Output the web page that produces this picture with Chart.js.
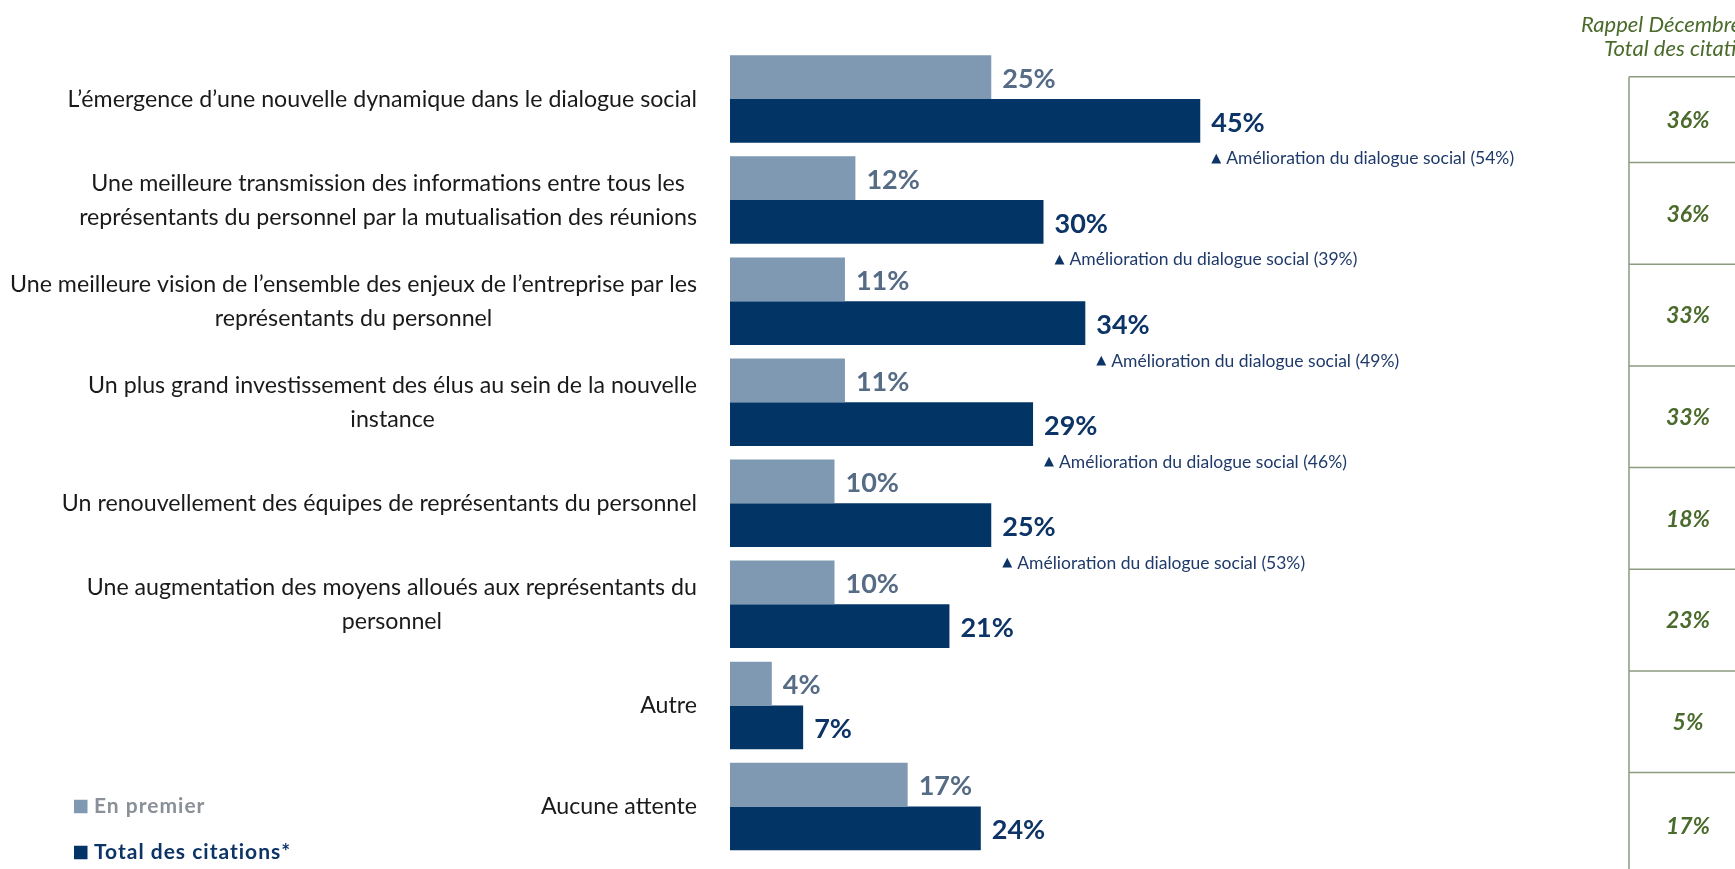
<!DOCTYPE html>
<html lang="fr">
<head>
<meta charset="utf-8">
<title>Attentes</title>
<script src="https://cdn.jsdelivr.net/npm/chart.js@4.4.1/dist/chart.umd.min.js"></script>
<style>
  html, body { margin: 0; padding: 0; background: #ffffff; }
  #wrap { width: 1735px; height: 869px; position: relative; overflow: hidden; }
  canvas { display: block; }
</style>
</head>
<body>
<div id="wrap"><canvas id="chart" width="1735" height="869"></canvas></div>
<script>
// ---- Data ----
const categories = [
  ["L’émergence d’une nouvelle dynamique dans le dialogue social"],
  ["Une meilleure transmission des informations entre tous les", "représentants du personnel par la mutualisation des réunions"],
  ["Une meilleure vision de l’ensemble des enjeux de l’entreprise par les", "représentants du personnel"],
  ["Un plus grand investissement des élus au sein de la nouvelle", "instance"],
  ["Un renouvellement des équipes de représentants du personnel"],
  ["Une augmentation des moyens alloués aux représentants du", "personnel"],
  ["Autre"],
  ["Aucune attente"]
];
const seriesNames = ["En premier", "Total des citations*"];
const enPremier = [25, 12, 11, 11, 10, 10, 4, 17];
const totalCitations = [45, 30, 34, 29, 25, 21, 7, 24];
const ameliorationDialogue = [54, 39, 49, 46, 53, null, null, null];
const ameliorationLabel = "Amélioration du dialogue social";
const rappelHeader = ["Rappel Décembre", "Total des citations"];
const rappelDecembre = [36, 36, 33, 33, 18, 23, 5, 17];

// ---- Styles ----
const COL_LIGHT = "#7f99b2";
const COL_DARK = "#023465";
const COL_LIGHT_TXT = "#566b85";
const COL_DARK_TXT = "#0d3466";
const COL_GREEN = "#4a6b2b";
const COL_GREEN_LINE = "#8c9c80";
const FONT = "Lato, 'Noto Sans', 'DejaVu Sans', sans-serif";

const overlay = {
  id: 'overlay',
  afterDatasetsDraw(chart) {
    const ctx = chart.ctx;
    ctx.save();
    // value labels
    [0, 1].forEach(di => {
      const meta = chart.getDatasetMeta(di);
      const data = chart.data.datasets[di].data;
      meta.data.forEach((el, i) => {
        ctx.font = "bold 27px " + FONT;
        ctx.fillStyle = di === 0 ? COL_LIGHT_TXT : COL_DARK_TXT;
        ctx.textAlign = 'left';
        ctx.textBaseline = 'middle';
        ctx.fillText(data[i] + "%", el.x + 11, el.y + 2);
        if (di === 1 && ameliorationDialogue[i] != null) {
          const ay = el.y + el.height / 2 + 16;
          ctx.font = "13px 'DejaVu Sans', sans-serif";
          ctx.fillStyle = COL_DARK_TXT;
          ctx.fillText("▲", el.x + 11, ay);
          ctx.font = "17.5px " + FONT;
          ctx.fillStyle = "#1f3a6a";
          ctx.fillText(ameliorationLabel + " (" + ameliorationDialogue[i] + "%)", el.x + 26, ay);
        }
      });
    });
    ctx.restore();
  },
  afterDraw(chart) {
    const ctx = chart.ctx;
    const yScale = chart.scales.y;
    const area = chart.chartArea;
    ctx.save();
    // category labels (centered block, right edge aligned)
    ctx.font = "23.2px " + FONT;
    ctx.fillStyle = "#1a1a1a";
    ctx.textBaseline = 'middle';
    ctx.textAlign = 'center';
    const rightEdge = area.left - 33;
    const lh = 34;
    categories.forEach((lines, i) => {
      const cy = yScale.getPixelForValue(i);
      const w = Math.max(...lines.map(l => ctx.measureText(l).width));
      const cx = rightEdge - w / 2;
      const y0 = cy - (lines.length - 1) * lh / 2;
      lines.forEach((l, k) => ctx.fillText(l, cx, y0 + k * lh));
    });

    // legend
    const legendItems = [
      { name: seriesNames[0], box: COL_LIGHT, txt: "#8a9097", y: 806.5 },
      { name: seriesNames[1], box: COL_DARK, txt: COL_DARK_TXT, y: 852.5 }
    ];
    ctx.textAlign = 'left';
    legendItems.forEach(it => {
      ctx.fillStyle = it.box;
      ctx.fillRect(74, it.y - 6.75, 13.5, 13.5);
      ctx.font = "bold 21px " + FONT;
      ctx.letterSpacing = "1px";
      ctx.fillStyle = it.txt;
      ctx.fillText(it.name, 94, it.y);
      ctx.letterSpacing = "0px";
    });

    // right-hand reminder table
    const tx = 1629;
    const top = 76.7;
    const bounds = [top];
    for (let k = 1; k < categories.length; k++) {
      bounds.push(yScale.getPixelForValue(k - 0.5) + 13 + (k - 1) * 0.6);
    }
    bounds.push(chart.height + 10);
    ctx.strokeStyle = COL_GREEN_LINE;
    ctx.lineWidth = 1.5;
    ctx.beginPath();
    ctx.moveTo(tx, top);
    ctx.lineTo(tx, chart.height);
    for (let k = 0; k < bounds.length - 1; k++) {
      ctx.moveTo(tx, bounds[k]);
      ctx.lineTo(chart.width, bounds[k]);
    }
    ctx.stroke();
    ctx.fillStyle = COL_GREEN;
    ctx.textAlign = 'center';
    ctx.font = "italic bold 23px " + FONT;
    rappelDecembre.forEach((v, i) => {
      const yc = i === categories.length - 1 ? bounds[i] + 54 : (bounds[i] + bounds[i + 1]) / 2 + 1;
      ctx.fillText(v + "%", 1688, yc);
    });
    ctx.textAlign = 'left';
    ctx.font = "italic 22px " + FONT;
    ctx.fillText(rappelHeader[0], 1581, 25);
    ctx.fillText(rappelHeader[1], 1604, 49);
    ctx.restore();
  }
};

new Chart(document.getElementById('chart'), {
  type: 'bar',
  data: {
    labels: categories,
    datasets: [
      { label: seriesNames[0], data: enPremier, backgroundColor: COL_LIGHT, borderWidth: 0 },
      { label: seriesNames[1], data: totalCitations, backgroundColor: COL_DARK, borderWidth: 0 }
    ]
  },
  options: {
    indexAxis: 'y',
    responsive: false,
    animation: false,
    events: [],
    layout: { padding: { left: 730, right: 169, top: 48.5, bottom: 12 } },
    datasets: { bar: { barPercentage: 1, categoryPercentage: 0.866 } },
    scales: {
      x: { display: false, min: 0, max: 80 },
      y: { display: false, offset: true }
    },
    plugins: { legend: { display: false }, tooltip: { enabled: false } }
  },
  plugins: [overlay]
});
</script>
</body>
</html>
